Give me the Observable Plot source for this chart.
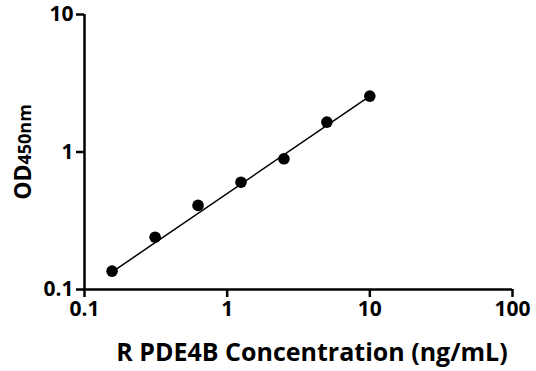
<!DOCTYPE html>
<html><head><meta charset="utf-8">
<script src="https://cdn.jsdelivr.net/npm/d3@7"></script>
<script src="https://cdn.jsdelivr.net/npm/@observablehq/plot@0.6"></script>
<style>
html,body{margin:0;padding:0;background:#fff;}
svg{display:block;}
</style>
</head><body>
<div id="chart"></div>
<script>
const concentration = [0.156, 0.3125, 0.625, 1.25, 2.5, 5, 10];
const od450 = [0.136, 0.240, 0.409, 0.603, 0.892, 1.65, 2.55];
const fitX = [0.156, 10];
const fitY = [0.134, 2.55];
const xTicks = [0.1, 1, 10, 100];
const yTicks = [0.1, 1, 10];
const xLabel = "R PDE4B Concentration (ng/mL)";

const points = concentration.map((c, i) => ({x: c, y: od450[i]}));
const fit = fitX.map((c, i) => ({x: c, y: fitY[i]}));

const font = "'Open Sans', 'DejaVu Sans', sans-serif";
const plot = Plot.plot({
  width: 536,
  height: 371,
  marginLeft: 84,
  marginRight: 24,
  marginTop: 14,
  marginBottom: 82,
  style: {fontFamily: font, fontWeight: "bold", fontSize: "21px", color: "#000", background: "#fff"},
  x: {type: "log", domain: [0.1, 100]},
  y: {type: "log", domain: [0.1, 10]},
  marks: [
    Plot.axisX(xTicks, {tickSize: 8, strokeWidth: 2.5, tickPadding: 4, tickFormat: d => String(d), label: null, fontSize: 21, fontWeight: "bold"}),
    Plot.axisY(yTicks, {tickSize: 8, strokeWidth: 2.5, tickPadding: 3, tickFormat: d => String(d), label: null, fontSize: 21, fontWeight: "bold"}),
    Plot.ruleX([0.1], {stroke: "#000", strokeWidth: 2.5}),
    Plot.ruleY([0.1], {stroke: "#000", strokeWidth: 2.5}),
    Plot.line(fit, {x: "x", y: "y", stroke: "#000", strokeWidth: 1.5}),
    Plot.dot(points, {x: "x", y: "y", r: 5.8, fill: "#000", stroke: "none"})
  ]
});
document.getElementById("chart").appendChild(plot);

const svg = d3.select(plot);
svg.append("text")
  .attr("x", 312).attr("y", 361)
  .attr("text-anchor", "middle")
  .attr("font-family", font).attr("font-weight", "bold").attr("font-size", 25)
  .attr("fill", "#000")
  .text(xLabel);
const yl = svg.append("text")
  .attr("transform", "translate(31,152) rotate(-90)")
  .attr("text-anchor", "middle")
  .attr("font-family", font).attr("font-weight", "bold")
  .attr("fill", "#000");
yl.append("tspan").attr("font-size", 23).text("OD");
yl.append("tspan").attr("font-size", 18).text("450nm");
</script>
</body></html>
